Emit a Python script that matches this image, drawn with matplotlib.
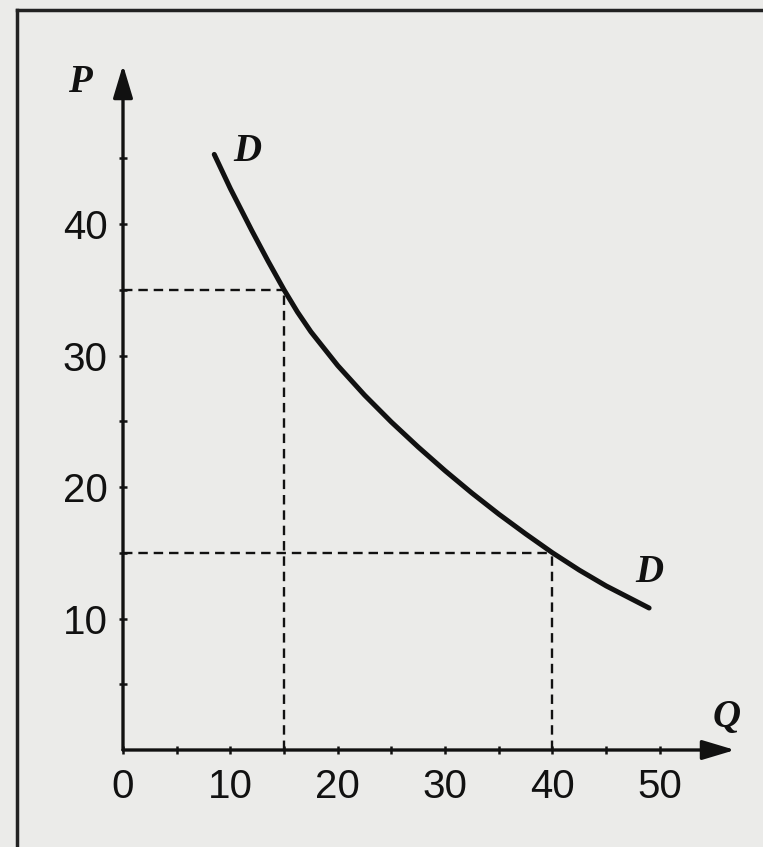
import matplotlib
matplotlib.use('Agg')
import matplotlib.pyplot as plt
from matplotlib.lines import Line2D

# demand curve D
q_vals = [8.5, 10.0, 12.0, 13.5, 15.0, 16.25, 17.5, 20.0, 22.5, 25.0, 27.5, 30.0,
          32.5, 35.0, 37.5, 40.0, 42.5, 45.0, 49.0]
p_vals = [45.3, 42.7, 39.5, 37.2, 35.0, 33.31, 31.81, 29.24, 26.99, 24.94, 23.04, 21.24,
          19.54, 17.94, 16.44, 15.0, 13.68, 12.48, 10.8]

# marked points on the curve (Q, P)
marked_q = [15, 40]
marked_p = [35, 15]

x_ticks = [0, 10, 20, 30, 40, 50]
y_ticks = [10, 20, 30, 40]

bg = '#ebebe9'
ink = '#111111'

fig = plt.figure(figsize=(7.63, 8.47), dpi=100, facecolor=bg)
ax = fig.add_axes([123/763, 97/847, 612/763, 685/847])
ax.set_facecolor(bg)
ax.set_xlim(0, 57)
ax.set_ylim(0, 52.1)
for s in ax.spines.values():
    s.set_visible(False)

# axes with arrows
arrow = dict(arrowstyle='-|>,head_length=2.0,head_width=0.6', color=ink, lw=2.4,
             shrinkA=0, shrinkB=0)
ax.annotate('', xy=(57, 0), xytext=(0, 0), arrowprops=arrow, annotation_clip=False)
ax.annotate('', xy=(0, 52.1), xytext=(0, 0), arrowprops=arrow, annotation_clip=False)

# ticks
ax.set_xticks(x_ticks)
ax.set_yticks(y_ticks)
ax.set_xticks([5, 15, 25, 35, 45], minor=True)
ax.set_yticks([5, 15, 25, 35, 45], minor=True)
ax.tick_params(which='both', direction='inout', length=6, width=1.8, color=ink)
ax.tick_params(axis='x', pad=10)
ax.tick_params(axis='y', pad=8)
for lab in ax.get_xticklabels() + ax.get_yticklabels():
    lab.set_family(['Liberation Sans', 'DejaVu Sans'])
    lab.set_fontsize(29)
    lab.set_color(ink)

# dashed guide lines
for q, p in zip(marked_q, marked_p):
    ax.plot([0, q], [p, p], ls=(0, (4, 2.5)), color=ink, lw=1.7)
    ax.plot([q, q], [0, p], ls=(0, (4, 2.5)), color=ink, lw=1.7)

# demand curve
ax.plot(q_vals, p_vals, color=ink, lw=3.6, solid_capstyle='round',
        solid_joinstyle='round')

lbl = dict(family=['Liberation Serif', 'DejaVu Serif'], style='italic', weight='bold',
           fontsize=28, color=ink, ha='center', va='center')
ax.text(11.6, 45.5, 'D', **lbl)
ax.text(49.0, 13.5, 'D', **lbl)
ax.text(-4.0, 50.8, 'P', clip_on=False, **lbl)
ax.text(56.2, 2.5, 'Q', clip_on=False, **lbl)

# scan frame (top and left edges)
fig.add_artist(Line2D([17/763, 1], [1 - 10/847, 1 - 10/847], color='#222222', lw=2.5))
fig.add_artist(Line2D([17/763, 17/763], [0, 1 - 10/847], color='#222222', lw=2.5))

fig.savefig('out.png', dpi=100, facecolor=bg)
